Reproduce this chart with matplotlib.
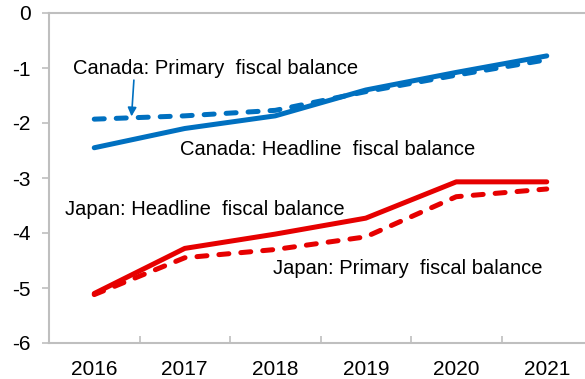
import matplotlib
matplotlib.use("Agg")
import matplotlib.pyplot as plt
import numpy as np

years = ["2016", "2017", "2018", "2019", "2020", "2021"]
canada_headline = [-2.45, -2.1, -1.87, -1.4, -1.08, -0.78]
canada_primary = [-1.93, -1.87, -1.77, -1.43, -1.13, -0.85]
japan_headline = [-5.1, -4.28, -4.02, -3.73, -3.07, -3.07]
japan_primary = [-5.12, -4.45, -4.3, -4.07, -3.34, -3.2]

plt.rcParams['font.family'] = ['Liberation Sans', 'DejaVu Sans']

fig = plt.figure(figsize=(5.85, 3.79), dpi=100)
ax = fig.add_axes([49/585, 1-343/379, (592-49)/585, (343-13)/379])

blue = '#0070C0'
red = '#E60000'
lw = 3.6
dash = (0, (2.0, 2.4))
x = np.arange(len(years))
ax.plot(x, canada_headline, color=blue, lw=lw, solid_capstyle='round')
ax.plot(x, canada_primary, color=blue, lw=lw, ls=dash, dash_capstyle='round')
ax.plot(x, japan_headline, color=red, lw=lw, solid_capstyle='round')
ax.plot(x, japan_primary, color=red, lw=lw, ls=dash, dash_capstyle='round')

ax.set_xlim(-0.5, 5.5)
ax.set_ylim(-6, 0)
ax.set_yticks(range(-6, 1))
ax.set_yticklabels([str(v) for v in range(-6, 1)])
ax.set_xticks(x)
ax.set_xticklabels(years)
ax.set_xticks(np.arange(-0.5, 5.6, 1), minor=True)
ax.tick_params(axis='x', which='major', length=0, pad=12, labelsize=15)
ax.tick_params(axis='x', which='minor', length=5, direction='in', color='#BFBFBF', width=1.2)
ax.tick_params(axis='y', length=5, direction='out', color='#BFBFBF', width=1.2, labelsize=15, pad=8)

for s in ['left', 'bottom', 'top']:
    ax.spines[s].set_color('#BFBFBF')
    ax.spines[s].set_linewidth(1.5)
ax.spines['right'].set_visible(False)

fs = 14.5
ax.text(-0.235, -1.0, "Canada: Primary  fiscal balance", fontsize=fs, va='center', ha='left')
ax.annotate("", xy=(0.41, -1.93), xytext=(0.44, -1.17),
            arrowprops=dict(arrowstyle='-|>', color=blue, lw=1.2, mutation_scale=13))
ax.text(0.95, -2.49, "Canada: Headline  fiscal balance", fontsize=fs, va='center', ha='left')
ax.text(-0.32, -3.58, "Japan: Headline  fiscal balance", fontsize=fs, va='center', ha='left')
ax.text(1.975, -4.64, "Japan: Primary  fiscal balance", fontsize=fs, va='center', ha='left')

fig.savefig("out.png", dpi=100)
